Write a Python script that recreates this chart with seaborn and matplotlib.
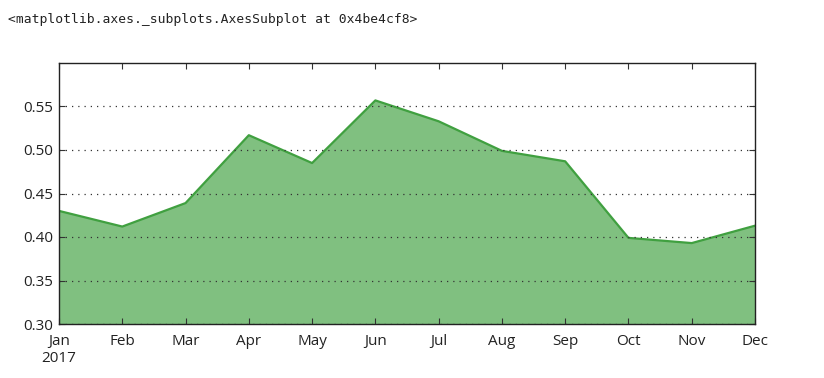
import matplotlib
matplotlib.use("Agg")
import matplotlib.pyplot as plt
import seaborn as sns
import pandas as pd
import numpy as np

months = ["Jan", "Feb", "Mar", "Apr", "May", "Jun", "Jul", "Aug", "Sep", "Oct", "Nov", "Dec"]
values = [0.430, 0.412, 0.439, 0.517, 0.485, 0.557, 0.533, 0.499, 0.487, 0.399, 0.393, 0.413]
yticks = [0.30, 0.35, 0.40, 0.45, 0.50, 0.55]

sns.set_style("white")
plt.rcParams['font.family'] = ['Open Sans', 'DejaVu Sans']

df = pd.DataFrame({"pos": np.arange(len(months)), "value": values})

fig = plt.figure(figsize=(8.24, 3.78), dpi=100)
ax = fig.add_axes([59/824, 1 - 324/378, (755-59)/824, (324-63)/378])

ax.fill_between(df["pos"], 0, df["value"], color="#80c080", linewidth=0, zorder=1)
sns.lineplot(data=df, x="pos", y="value", ax=ax, color="#40a040", linewidth=1.6, zorder=2)

ax.set_xlim(0, len(months) - 1)
ax.set_ylim(0.30, 0.60)
ax.set_xticks(df["pos"])
labels = list(months)
labels[0] = "Jan\n2017"
ax.set_xticklabels(labels, fontsize=11, color="#222222", va="top")
ax.set_yticks(yticks)
ax.set_yticklabels([f"{v:.2f}" for v in yticks], fontsize=11, color="#222222")
ax.set_xlabel("")
ax.set_ylabel("")

ax.yaxis.grid(True, linestyle=(0, (1, 4)), color="#333333", linewidth=0.9, zorder=3)
ax.xaxis.grid(False)
ax.set_axisbelow(False)

ax.tick_params(axis="both", direction="in", length=4, width=0.8, color="#333333",
               top=True, right=True, bottom=True, left=True, pad=4)
ax.tick_params(axis="x", pad=7)
for s in ax.spines.values():
    s.set_visible(True)
    s.set_color("#222222")
    s.set_linewidth(1.0)
    s.set_zorder(4)

fig.text(8/824, 1 - 20/378, "<matplotlib.axes._subplots.AxesSubplot at 0x4be4cf8>",
         fontsize=9.4, family=["DejaVu Sans Mono"], va="center", ha="left", color="#222222")

fig.savefig("out.png", dpi=100)
